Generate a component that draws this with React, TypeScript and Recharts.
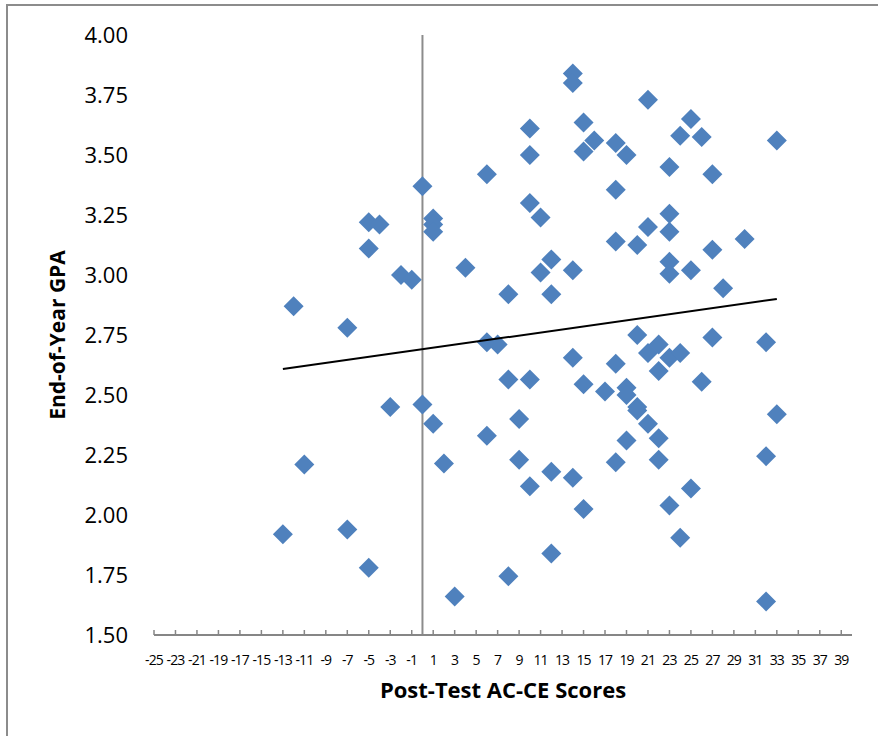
import React from 'react';
import { ScatterChart, Scatter, XAxis, YAxis, ReferenceLine } from 'recharts';

// post-test AC-CE score (x) and end-of-year GPA (y)
const scores = [
  -13, -12, -11, -7, -7, -5, -5, -5, -4, -3, -2, -1, 0, 0, 1, 1, 1, 1, 2, 3, 4,
  6, 6, 6, 7, 8, 8, 8, 9, 9, 10, 10, 10, 10, 10, 11, 11, 12, 12, 12, 12,
  14, 14, 14, 14, 14, 15, 15, 15, 15, 16, 17, 18, 18, 18, 18, 18, 19, 19, 19, 19,
  20, 20, 20, 20, 21, 21, 21, 21, 22, 22, 22, 22, 23, 23, 23, 23, 23, 23, 23,
  24, 24, 24, 25, 25, 25, 26, 26, 27, 27, 27, 28, 30, 32, 32, 32, 33, 33,
];
const gpa = [
  1.92, 2.87, 2.21, 2.78, 1.94, 3.22, 3.11, 1.78, 3.21, 2.45, 3.0, 2.98, 3.37, 2.46, 3.235, 3.21, 3.18, 2.38, 2.215, 1.66, 3.03,
  3.42, 2.72, 2.33, 2.71, 2.92, 2.565, 1.745, 2.40, 2.23, 3.61, 3.50, 3.30, 2.565, 2.12, 3.24, 3.01, 3.065, 2.92, 2.18, 1.84,
  3.84, 3.80, 3.02, 2.655, 2.155, 3.635, 3.515, 2.545, 2.025, 3.56, 2.515, 3.55, 3.355, 3.14, 2.63, 2.22, 3.50, 2.53, 2.50, 2.31,
  3.125, 2.75, 2.45, 2.435, 3.73, 3.20, 2.675, 2.38, 2.71, 2.60, 2.32, 2.23, 3.45, 3.255, 3.18, 3.055, 3.005, 2.655, 2.04,
  3.58, 2.675, 1.905, 3.65, 3.02, 2.11, 3.575, 2.555, 3.42, 3.105, 2.74, 2.945, 3.15, 2.72, 2.245, 1.64, 3.56, 2.42,
];

// linear trend line end points
const trendX = [-13, 33];
const trendY = [2.608, 2.9];

const xTicks = [
  -25, -23, -21, -19, -17, -15, -13, -11, -9, -7, -5, -3, -1, 1, 3, 5, 7, 9, 11, 13,
  15, 17, 19, 21, 23, 25, 27, 29, 31, 33, 35, 37, 39,
];
const yTicks = [1.5, 1.75, 2.0, 2.25, 2.5, 2.75, 3.0, 3.25, 3.5, 3.75, 4.0];

const points = scores.map((s, i) => ({ x: s, y: gpa[i] }));
const trend = trendX.map((t, i) => ({ x: t, y: trendY[i] }));

const font = '"Open Sans", sans-serif';

const Diamond = (props: any) => {
  const { cx, cy } = props;
  const r = 10;
  return (
    <polygon
      points={`${cx},${cy - r} ${cx + r},${cy} ${cx},${cy + r} ${cx - r},${cy}`}
      fill="#4F81BD"
    />
  );
};

const XTick = (props: any) => {
  const { x, y, payload } = props;
  return (
    <g>
      <line x1={x} y1={y} x2={x} y2={y - 5} stroke="#868686" strokeWidth={1.5} />
      <text
        x={x}
        y={y + 30}
        textAnchor="middle"
        fontFamily={font}
        fontSize={14}
        letterSpacing={-0.9}
        fill="#000"
      >
        {payload.value}
      </text>
    </g>
  );
};

export default function App() {
  return (
    <div style={{ position: 'absolute', left: 0, top: 0, width: 878, height: 736, background: '#fff' }}>
      <div
        style={{
          position: 'absolute',
          left: 6,
          top: 4,
          width: 872,
          height: 732,
          borderLeft: '2px solid #8c8c8c',
          borderTop: '2px solid #8c8c8c',
          boxSizing: 'border-box',
        }}
      />
      <div style={{ position: 'absolute', left: 0, top: 0 }}>
        <ScatterChart width={878} height={736} margin={{ top: 35, right: 26, bottom: 0, left: 0 }}>
          <XAxis
            type="number"
            dataKey="x"
            domain={[-25, 40]}
            ticks={xTicks}
            interval={0}
            allowDataOverflow
            axisLine={{ stroke: '#868686', strokeWidth: 2 }}
            tickLine={false}
            tickSize={0}
            tickMargin={0}
            tick={<XTick />}
            height={101}
            label={{
              value: 'Post-Test AC-CE Scores',
              position: 'insideTop',
              offset: 47,
              style: { fontFamily: font, fontSize: 22, fontWeight: 700, fill: '#000' },
            }}
          />
          <YAxis
            type="number"
            dataKey="y"
            domain={[1.5, 4]}
            ticks={yTicks}
            interval={0}
            allowDataOverflow
            width={154}
            axisLine={false}
            tickLine={false}
            tickSize={0}
            tickMargin={26}
            tickFormatter={(v: number) => v.toFixed(2)}
            tick={{ fontFamily: font, fontSize: 22, fill: '#000' }}
            label={{
              content: () => (
                <text
                  x={57}
                  y={335}
                  transform="rotate(-90 57 335)"
                  textAnchor="middle"
                  dominantBaseline="central"
                  fontFamily={font}
                  fontSize={21}
                  fontWeight={700}
                  fill="#000"
                >
                  End-of-Year GPA
                </text>
              ),
            }}
          />
          <ReferenceLine x={0} stroke="#8c8c8c" strokeWidth={2} />
          <Scatter data={points} shape={<Diamond />} isAnimationActive={false} />
          <Scatter
            data={trend}
            line={{ stroke: '#000', strokeWidth: 2 }}
            lineType="joint"
            shape={() => <g />}
            isAnimationActive={false}
          />
        </ScatterChart>
      </div>
    </div>
  );
}
